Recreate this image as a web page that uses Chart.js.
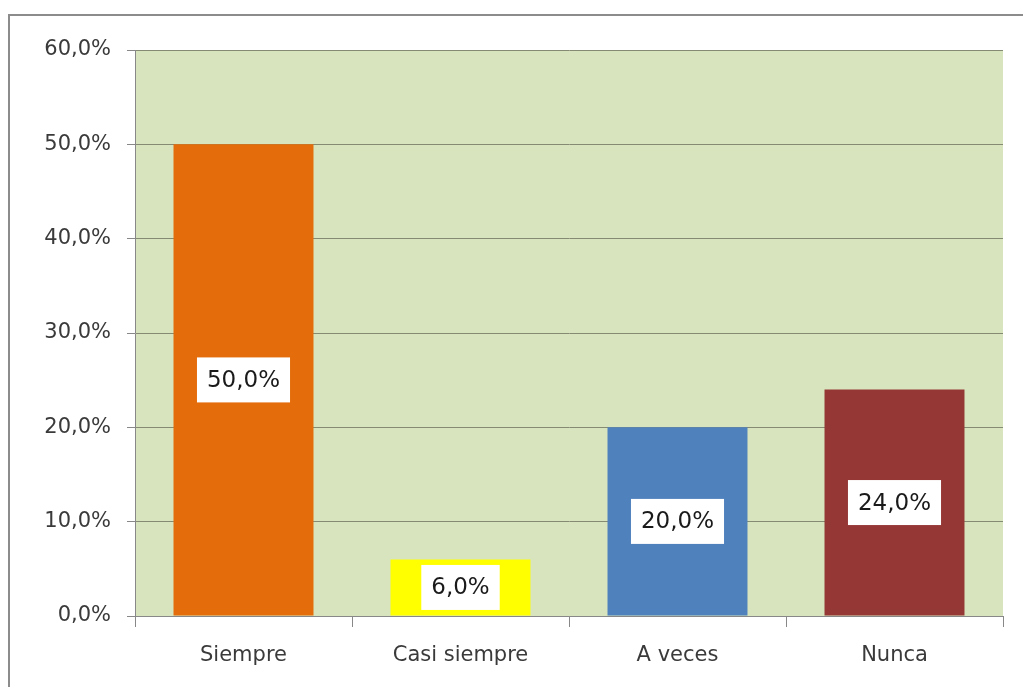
<!DOCTYPE html>
<html>
<head>
<meta charset="utf-8">
<script src="https://cdn.jsdelivr.net/npm/chart.js@4/dist/chart.umd.min.js"></script>
<style>
  html, body { margin: 0; padding: 0; background: #ffffff; }
  #wrap { position: relative; width: 1023px; height: 687px; overflow: hidden; }
  #frame { position: absolute; left: 8px; top: 14px; width: 1100px; height: 800px;
           border-top: 2px solid #8c8c8c; border-left: 2px solid #8c8c8c; box-sizing: border-box; }
  canvas { position: absolute; left: 0; top: 0; }
</style>
</head>
<body>
<div id="wrap">
  <div id="frame"></div>
  <canvas id="c" width="1023" height="687"></canvas>
</div>
<script>
const categories = ["Siempre", "Casi siempre", "A veces", "Nunca"];
const values = [50.0, 6.0, 20.0, 24.0];
const barColors = ["#E46C0A", "#FFFF00", "#4F81BD", "#953735"];
const yTickValues = [0, 10, 20, 30, 40, 50, 60];

function fmtPct(v) { return v.toFixed(1).replace('.', ',') + '%'; }

const FONT = '"DejaVu Sans", Verdana, sans-serif';

const plotBg = {
  id: 'plotBg',
  beforeDraw(chart) {
    const a = chart.chartArea, ctx = chart.ctx;
    ctx.save();
    ctx.fillStyle = '#D7E4BD';
    ctx.fillRect(a.left, a.top, a.right - a.left, a.bottom - a.top);
    ctx.restore();
  }
};

const boxLabels = {
  id: 'boxLabels',
  afterDatasetsDraw(chart) {
    const ctx = chart.ctx;
    const meta = chart.getDatasetMeta(0);
    ctx.save();
    ctx.font = '23px ' + FONT;
    ctx.textAlign = 'center';
    ctx.textBaseline = 'middle';
    meta.data.forEach((bar, i) => {
      const txt = fmtPct(values[i]);
      const cy = (bar.y + bar.base) / 2;
      const w = ctx.measureText(txt).width + 20;
      const h = 45;
      ctx.fillStyle = '#ffffff';
      ctx.fillRect(bar.x - w / 2, cy - h / 2, w, h);
      ctx.fillStyle = '#1a1a1a';
      ctx.fillText(txt, bar.x, cy + 1);
    });
    ctx.restore();
  }
};

new Chart(document.getElementById('c'), {
  type: 'bar',
  data: {
    labels: categories,
    datasets: [{
      data: values,
      backgroundColor: barColors,
      borderWidth: 0,
      barPercentage: 0.645,
      categoryPercentage: 1.0
    }]
  },
  options: {
    responsive: false,
    animation: false,
    devicePixelRatio: 1,
    layout: { padding: { left: 0, right: 20, top: 50, bottom: 0 } },
    plugins: { legend: { display: false }, tooltip: { enabled: false } },
    scales: {
      y: {
        min: 0, max: 60,
        afterFit(scale) { scale.width = 135; },
        afterBuildTicks(scale) { scale.ticks = yTickValues.map(v => ({ value: v })); },
        ticks: {
          callback: (v) => fmtPct(v),
          color: '#3a3a3a',
          font: { size: 21, family: FONT },
          padding: 16
        },
        grid: { color: '#858B73', lineWidth: 1, tickLength: 8, tickColor: '#888888' },
        border: { color: '#888888', width: 1 }
      },
      x: {
        afterFit(scale) { scale.height = 71; },
        ticks: {
          color: '#3a3a3a',
          font: { size: 21, family: FONT },
          padding: 16
        },
        grid: { drawOnChartArea: false, drawTicks: true, tickLength: 11, color: '#888888', offset: true },
        border: { color: '#888888', width: 1 }
      }
    }
  },
  plugins: [plotBg, boxLabels]
});
</script>
</body>
</html>
